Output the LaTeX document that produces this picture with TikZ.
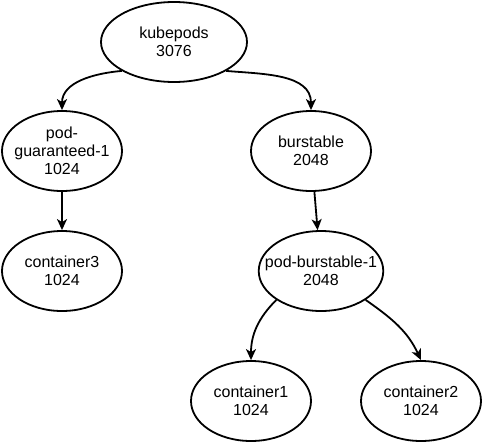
\documentclass[tikz,border=0pt]{standalone}
\usepackage{fontspec}
\setmainfont{Liberation Sans}
\usepackage{tikz}
\usetikzlibrary{shapes.geometric, arrows.meta, positioning}

\begin{document}
\begin{tikzpicture}[
  x=1pt, y=-1pt,
  cgroup/.style={ellipse, draw=black, line width=1.8pt, fill=white, minimum width=120pt, minimum height=80pt, inner xsep=-12pt, inner ysep=0pt, align=center, font=\fontsize{16}{18}\selectfont},
  arrow/.style={-{Stealth[length=11pt, width=10pt, inset=3pt]}, line width=1.8pt}
]
\useasboundingbox (0,0) rectangle (482,442);
\node[cgroup, minimum width=146pt] (kube) at (174,42) {kubepods\\3076};
\node[cgroup] (podg) at (62,151) {pod-\\guaranteed-1\\1024};
\node[cgroup] (burst) at (311,151) {burstable\\2048};
\node[cgroup] (cont3) at (62,271) {container3\\1024};
\node[cgroup] (podb) at (321,271) {pod-burstable-1\\2048};
\node[cgroup] (cont1) at (251,401) {container1\\1024};
\node[cgroup] (cont2) at (421,401) {container2\\1024};

\draw[arrow] (kube.south west) to[out=185, in=90] (podg.north);
\draw[arrow] (kube.south east) to[out=-5, in=90] (burst.north);
\draw[arrow] (podg) -- (cont3);
\draw[arrow] (burst) -- (podb);
\draw[arrow] (podb.south west) to[out=225, in=90] (cont1.north);
\draw[arrow] (podb.south east) to[out=-35, in=115] (cont2.north);
\end{tikzpicture}
\end{document}
